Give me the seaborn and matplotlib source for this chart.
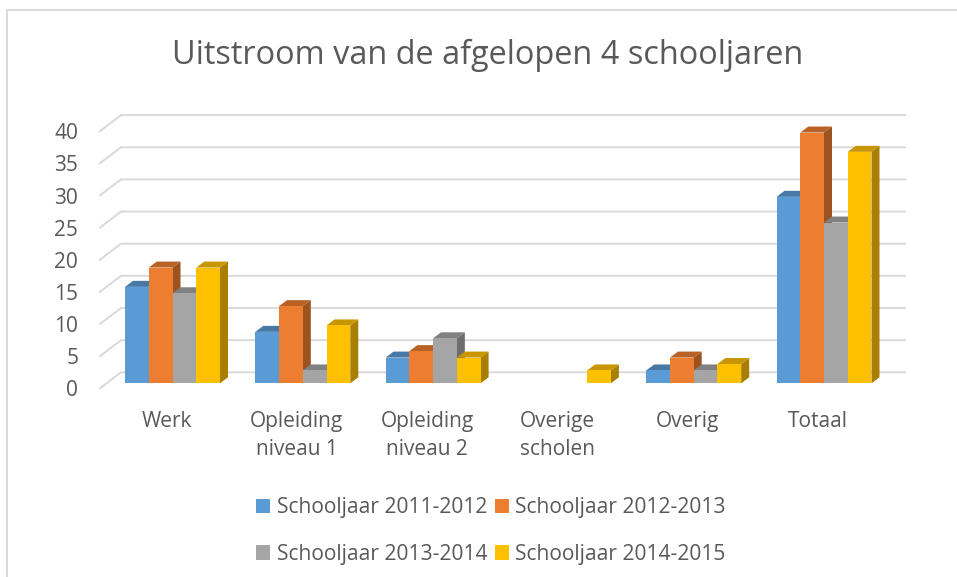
import numpy as np
import pandas as pd
import seaborn as sns
import matplotlib
matplotlib.use("Agg")
import matplotlib.pyplot as plt
import matplotlib.colors as mc
from matplotlib.lines import Line2D
from matplotlib.patches import Polygon, Patch
from matplotlib.transforms import ScaledTranslation

categories = ["Werk", "Opleiding\nniveau 1", "Opleiding\nniveau 2", "Overige\nscholen", "Overig", "Totaal"]
s2011 = [15, 8, 4, 0, 2, 29]
s2012 = [18, 12, 5, 0, 4, 39]
s2013 = [14, 2, 7, 0, 2, 25]
s2014 = [18, 9, 4, 2, 3, 36]
series_names = ["Schooljaar 2011-2012", "Schooljaar 2012-2013", "Schooljaar 2013-2014", "Schooljaar 2014-2015"]
colors = ["#5B9BD5", "#ED7D31", "#A5A5A5", "#FFC000"]
y_ticks = [0, 5, 10, 15, 20, 25, 30, 35, 40]
title = "Uitstroom van de afgelopen 4 schooljaren"

W, H = 957, 577
TXT = "#595959"
GRID = "#D9D9D9"
plt.rcParams["font.family"] = ["Open Sans", "DejaVu Sans"]

rows = []
for name, vals in zip(series_names, [s2011, s2012, s2013, s2014]):
    for c, v in zip(categories, vals):
        rows.append({"cat": c, "series": name, "value": v})
df = pd.DataFrame(rows)

fig = plt.figure(figsize=(W / 100, H / 100), dpi=100)
# axes = front plane of the bars, in pixels
L, R, Y0, Y40 = 107.35, 889.15, 383.3, 126.1
ax = fig.add_axes([L / W, 1 - Y0 / H, (R - L) / W, (Y0 - Y40) / H])
sns.barplot(data=df, x="cat", y="value", hue="series", hue_order=series_names,
            palette=colors, order=categories, width=0.729, gap=0, saturation=1,
            errorbar=None, legend=False, ax=ax, linewidth=0)
ax.set_xlim(-0.5, 5.5)
ax.set_ylim(0, 40)
ax.set_xlabel("")
ax.set_ylabel("")
for s in ax.spines.values():
    s.set_visible(False)
ax.patch.set_alpha(0)

px_x = (R - L) / 6          # pixels per x unit
px_y = (Y0 - Y40) / 40      # pixels per y unit

# gridlines on the back wall with the oblique part on the side wall
back_dx0, back_dy = (121 - L) / px_x, 11 / px_y
front_dx0, front_dy = (100 - L) / px_x, -5 / px_y
x_back_r = -0.5 + (905 - L) / px_x
for t in y_ticks:
    xs = [-0.5 + front_dx0, -0.5 + back_dx0, x_back_r]
    ys = [t + front_dy, t + back_dy, t + back_dy]
    ax.plot(xs, ys, color=GRID, lw=1.4, clip_on=False, zorder=1)

# depth faces of each bar, painted left to right
dx, dy = 8 / px_x, 6 / px_y
def shade(c, f):
    r, g, b = mc.to_rgb(c)
    return (r * f, g * f, b * f)

bars = [p for p in ax.patches if p.get_height() > 0]
bars.sort(key=lambda p: p.get_x())
z = 3.0
for p in ax.patches:
    if p.get_height() <= 0:
        p.set_visible(False)
for p in bars:
    x0, w, h = p.get_x(), p.get_width(), p.get_height()
    col = p.get_facecolor()[:3]
    side = Polygon([(x0 + w, 0), (x0 + w + dx, dy), (x0 + w + dx, h + dy), (x0 + w, h)],
                   closed=True, fc=shade(col, 0.66), ec="none", clip_on=False, zorder=z)
    top = Polygon([(x0, h), (x0 + dx, h + dy), (x0 + w + dx, h + dy), (x0 + w, h)],
                  closed=True, fc=shade(col, 0.78), ec="none", clip_on=False, zorder=z + 0.1)
    ax.add_patch(side)
    ax.add_patch(top)
    p.set_zorder(z + 0.2)
    z += 1

# ticks
ax.set_yticks(y_ticks)
ax.tick_params(axis="both", length=0, colors=TXT, labelsize=15)
ax.tick_params(axis="y", pad=21)
ax.tick_params(axis="x", pad=20)
ax.set_xticks(range(len(categories)))
ax.set_xticklabels(categories, linespacing=1.45)
for lab in ax.get_yticklabels():
    lab.set_transform(lab.get_transform() + ScaledTranslation(0, -3.7 / 72, fig.dpi_scale_trans))
for lab in ax.get_xticklabels():
    lab.set_transform(lab.get_transform() + ScaledTranslation(-4.3 / 72, 0, fig.dpi_scale_trans))

# title
fig.text(487.5 / W, 1 - 55 / H, title, ha="center", va="center", fontsize=23.45, color=TXT)

# legend, filled row by row
handles = [Patch(fc=c, ec="none") for c in colors]
order = [0, 2, 1, 3]
fig.legend([handles[i] for i in order], [series_names[i] for i in order],
           ncol=2, frameon=False, fontsize=15.1,
           loc="center", bbox_to_anchor=(491 / W, 1 - 531 / H),
           labelcolor=TXT, handlelength=0.67, handleheight=0.67, handletextpad=0.29,
           columnspacing=0.38, labelspacing=1.23, borderpad=0)

# chart frame: left and top edges only
fr = dict(color="#D9D9D9", lw=1.4, transform=fig.transFigure)
fig.add_artist(Line2D([7 / W, 7 / W, 1], [0, 1 - 10 / H, 1 - 10 / H], **fr))

fig.savefig("out.png", dpi=100, facecolor="white")
